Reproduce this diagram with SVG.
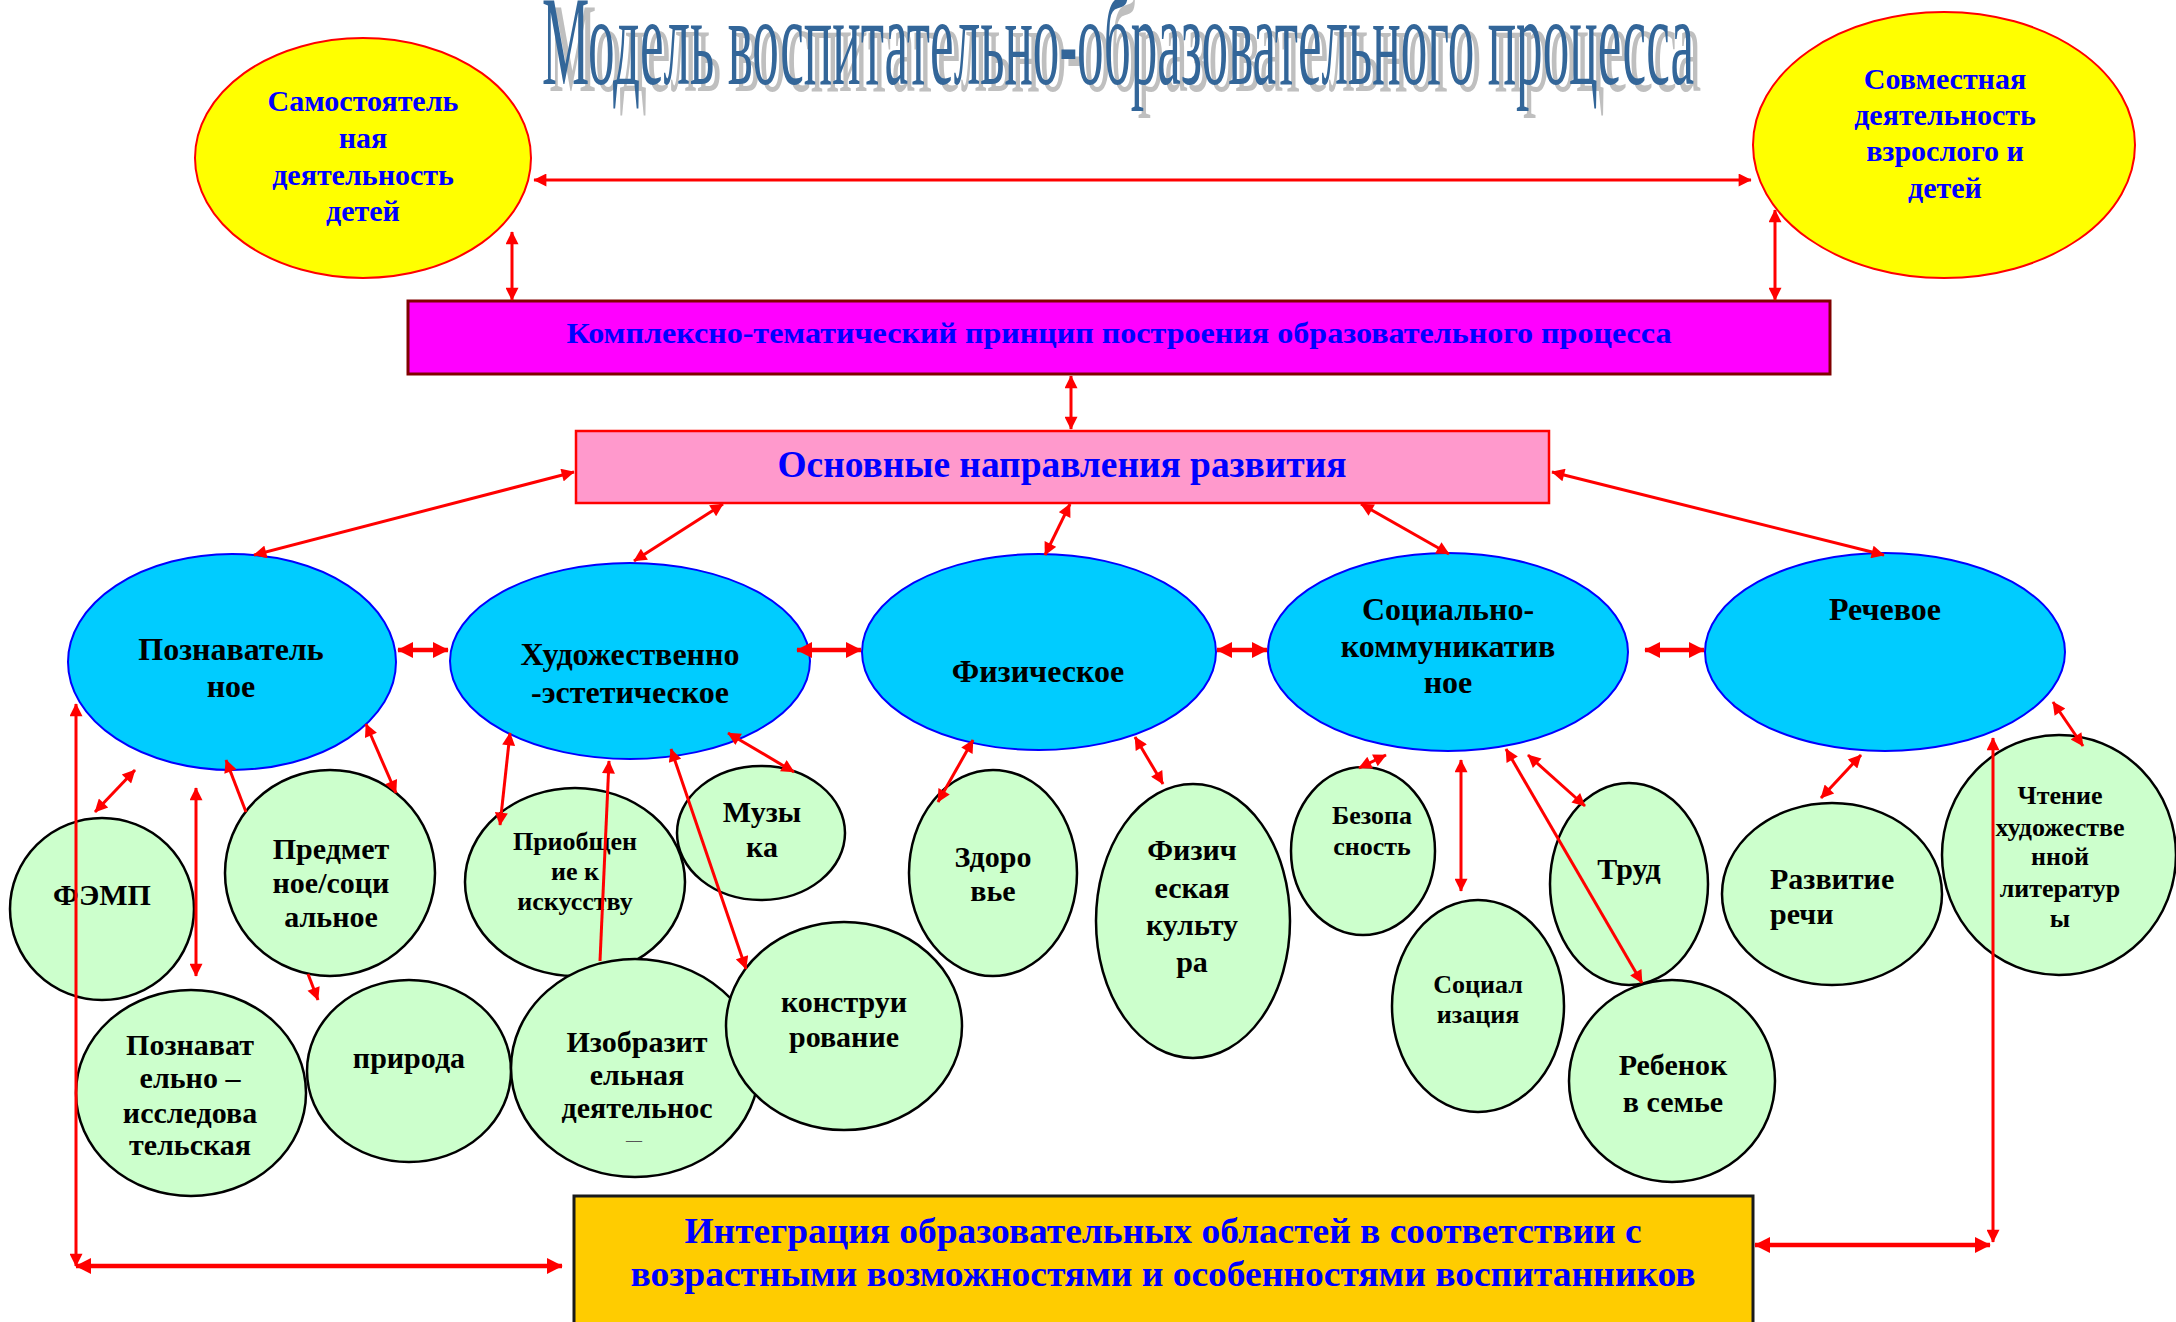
<svg xmlns="http://www.w3.org/2000/svg" width="2176" height="1322" viewBox="0 0 2176 1322">
<defs>
<marker id="a" viewBox="0 0 10 10" refX="9.5" refY="5" markerWidth="15" markerHeight="13" markerUnits="userSpaceOnUse" orient="auto-start-reverse"><path d="M0,0 L10,5 L0,10 z" fill="#FF0000"/></marker>
<marker id="b" viewBox="0 0 10 10" refX="9.5" refY="5" markerWidth="16" markerHeight="18" markerUnits="userSpaceOnUse" orient="auto-start-reverse"><path d="M0,0 L10,5 L0,10 z" fill="#FF0000"/></marker>
</defs>
<style>
text{font-family:"Liberation Serif","Times New Roman",serif;font-weight:bold;text-anchor:middle}
.title{font-weight:normal;font-size:128px}
.bl{fill:#0000FF}
.bk{fill:#000000}
.s32{font-size:32px}
.s30{font-size:30px}
.s26{font-size:26px}
.yel{fill:#FFFF00;stroke:#FF0000;stroke-width:2}
.cy{fill:#00CCFF;stroke:#0000FF;stroke-width:2}
.gr{fill:#CCFFCC;stroke:#000000;stroke-width:2.5}
.c{stroke:#FF0000;stroke-width:3;fill:none;marker-start:url(#a);marker-end:url(#a)}
.ce{stroke:#FF0000;stroke-width:3;fill:none;marker-end:url(#a)}
.cs{stroke:#FF0000;stroke-width:3;fill:none;marker-start:url(#a)}
.t{stroke:#FF0000;stroke-width:4.5;fill:none;marker-start:url(#b);marker-end:url(#b)}
</style>
<rect width="2176" height="1322" fill="#FFFFFF"/>
<g id="title">
<text class="title" x="1125" y="91" fill="#BFBFBF" textLength="1152" lengthAdjust="spacingAndGlyphs">Модель воспитательно-образовательного процесса</text>
<text class="title" x="1118" y="84" fill="#336699" textLength="1152" lengthAdjust="spacingAndGlyphs">Модель воспитательно-образовательного процесса</text>
</g>
<g id="samostoyatelnaya">
<ellipse class="yel" cx="363" cy="158" rx="168" ry="120"/>
<text class="bl s30" x="363" y="111">Самостоятель</text>
<text class="bl s30" x="363" y="148">ная</text>
<text class="bl s30" x="363" y="185">деятельность</text>
<text class="bl s30" x="363" y="221">детей</text>
</g>
<g id="sovmestnaya">
<ellipse class="yel" cx="1944" cy="145" rx="191" ry="133"/>
<text class="bl s30" x="1945" y="89">Совместная</text>
<text class="bl s30" x="1945" y="125">деятельность</text>
<text class="bl s30" x="1945" y="161">взрослого и</text>
<text class="bl s30" x="1945" y="198">детей</text>
</g>
<g id="kompleksno">
<rect x="408" y="301" width="1422" height="73" fill="#FF00FF" stroke="#800000" stroke-width="3"/>
<text class="bl" x="1119" y="343" font-size="29" textLength="1105" lengthAdjust="spacingAndGlyphs">Комплексно-тематический принцип построения образовательного процесса</text>
</g>
<g id="osnovnye">
<rect x="576" y="431" width="973" height="72" fill="#FF99CC" stroke="#FF0000" stroke-width="2.5"/>
<text class="bl" x="1062" y="477" font-size="37" textLength="569" lengthAdjust="spacingAndGlyphs">Основные направления развития</text>
</g>
<g id="poznavatelnoe">
<ellipse class="cy" cx="232" cy="662" rx="164" ry="108"/>
<text class="bk s32" x="231" y="660">Познаватель</text>
<text class="bk s32" x="231" y="697">ное</text>
</g>
<g id="hudozhestvennoe">
<ellipse class="cy" cx="630" cy="661" rx="180" ry="98"/>
<text class="bk s32" x="630" y="665">Художественно</text>
<text class="bk s32" x="630" y="703">-эстетическое</text>
</g>
<g id="fizicheskoe">
<ellipse class="cy" cx="1039" cy="652" rx="177" ry="98"/>
<text class="bk s32" x="1038" y="682">Физическое</text>
</g>
<g id="socialnoe">
<ellipse class="cy" cx="1448" cy="652" rx="180" ry="99"/>
<text class="bk s32" x="1448" y="620">Социально-</text>
<text class="bk s32" x="1448" y="657">коммуникатив</text>
<text class="bk s32" x="1448" y="693">ное</text>
</g>
<g id="rechevoe">
<ellipse class="cy" cx="1885" cy="652" rx="180" ry="99"/>
<text class="bk s32" x="1885" y="620">Речевое</text>
</g>
<g id="femp">
<ellipse class="gr" cx="102" cy="909" rx="92" ry="91"/>
<text class="bk s30" x="102" y="905">ФЭМП</text>
</g>
<g id="predmetnoe">
<ellipse class="gr" cx="330" cy="873" rx="105" ry="103"/>
<text class="bk s30" x="331" y="859">Предмет</text>
<text class="bk s30" x="331" y="893">ное/соци</text>
<text class="bk s30" x="331" y="927">альное</text>
</g>
<g id="priobshchenie">
<ellipse class="gr" cx="575" cy="882" rx="110" ry="94"/>
<text class="bk s26" x="575" y="850">Приобщен</text>
<text class="bk s26" x="575" y="880">ие к</text>
<text class="bk s26" x="575" y="910">искусству</text>
</g>
<g id="muzyka">
<ellipse class="gr" cx="761" cy="833" rx="84" ry="67"/>
<text class="bk s30" x="762" y="822">Музы</text>
<text class="bk s30" x="762" y="857">ка</text>
</g>
<g id="zdorovie">
<ellipse class="gr" cx="993" cy="873" rx="84" ry="103"/>
<text class="bk s30" x="993" y="867">Здоро</text>
<text class="bk s30" x="993" y="901">вье</text>
</g>
<g id="fizkultura">
<ellipse class="gr" cx="1193" cy="921" rx="97" ry="137"/>
<text class="bk s30" x="1192" y="860">Физич</text>
<text class="bk s30" x="1192" y="898">еская</text>
<text class="bk s30" x="1192" y="935">культу</text>
<text class="bk s30" x="1192" y="972">ра</text>
</g>
<g id="bezopasnost">
<ellipse class="gr" cx="1363" cy="851" rx="72" ry="84"/>
<text class="bk s26" x="1372" y="824">Безопа</text>
<text class="bk s26" x="1372" y="855">сность</text>
</g>
<g id="socializaciya">
<ellipse class="gr" cx="1478" cy="1006" rx="86" ry="106"/>
<text class="bk s26" x="1478" y="993">Социал</text>
<text class="bk s26" x="1478" y="1023">изация</text>
</g>
<g id="trud">
<ellipse class="gr" cx="1629" cy="884" rx="79" ry="101"/>
<text class="bk s30" x="1629" y="879">Труд</text>
</g>
<g id="rebenok">
<ellipse class="gr" cx="1672" cy="1081" rx="103" ry="101"/>
<text class="bk s30" x="1673" y="1075">Ребенок</text>
<text class="bk s30" x="1673" y="1112">в семье</text>
</g>
<g id="razvitie">
<ellipse class="gr" cx="1832" cy="894" rx="110" ry="91"/>
<text class="bk s30" x="1770" y="889" style="text-anchor:start">Развитие</text>
<text class="bk s30" x="1770" y="924" style="text-anchor:start">речи</text>
</g>
<g id="chtenie">
<ellipse class="gr" cx="2059" cy="855" rx="117" ry="120"/>
<text class="bk s26" x="2060" y="804">Чтение</text>
<text class="bk s26" x="2060" y="836">художестве</text>
<text class="bk s26" x="2060" y="865">нной</text>
<text class="bk s26" x="2060" y="897">литератур</text>
<text class="bk s26" x="2060" y="927">ы</text>
</g>
<g id="issledovatelskaya">
<ellipse class="gr" cx="191" cy="1093" rx="115" ry="103"/>
<text class="bk s30" x="190" y="1055">Познават</text>
<text class="bk s30" x="190" y="1088">ельно –</text>
<text class="bk s30" x="190" y="1123">исследова</text>
<text class="bk s30" x="190" y="1155">тельская</text>
</g>
<g id="priroda">
<ellipse class="gr" cx="409" cy="1071" rx="102" ry="91"/>
<text class="bk s30" x="409" y="1068">природа</text>
</g>
<g id="izobrazitelnaya">
<ellipse class="gr" cx="635" cy="1068" rx="124" ry="109"/>
<text class="bk s30" x="637" y="1052">Изобразит</text>
<text class="bk s30" x="637" y="1085">ельная</text>
<text class="bk s30" x="637" y="1118">деятельнос</text>
<text x="634" y="1145" font-size="16" fill="#555555" style="font-weight:normal">–‒</text>
</g>
<g id="konstruirovanie">
<ellipse class="gr" cx="844" cy="1026" rx="118" ry="104"/>
<text class="bk s30" x="844" y="1012">конструи</text>
<text class="bk s30" x="844" y="1047">рование</text>
</g>
<g id="integraciya">
<rect x="574" y="1196" width="1179" height="140" fill="#FFCC00" stroke="#1a1a1a" stroke-width="3"/>
<text class="bl" x="1163" y="1243" font-size="35" textLength="957" lengthAdjust="spacingAndGlyphs">Интеграция образовательных областей в соответствии с</text>
<text class="bl" x="1163" y="1286" font-size="35" textLength="1065" lengthAdjust="spacingAndGlyphs">возрастными возможностями и особенностями воспитанников</text>
</g>
<g id="connectors">
<line class="c" x1="534" y1="180" x2="1751" y2="180"/>
<line class="c" x1="512" y1="232" x2="512" y2="300"/>
<line class="c" x1="1775" y1="210" x2="1775" y2="300"/>
<line class="c" x1="1071" y1="376" x2="1071" y2="429"/>
<line class="c" x1="574" y1="472" x2="254" y2="555"/>
<line class="c" x1="723" y1="504" x2="634" y2="561"/>
<line class="c" x1="1070" y1="504" x2="1045" y2="555"/>
<line class="c" x1="1361" y1="504" x2="1449" y2="554"/>
<line class="c" x1="1552" y1="472" x2="1884" y2="555"/>
<line class="t" x1="398" y1="650" x2="448" y2="650"/>
<line class="t" x1="797" y1="650" x2="861" y2="650"/>
<line class="t" x1="1217" y1="650" x2="1267" y2="650"/>
<line class="t" x1="1645" y1="650" x2="1704" y2="650"/>
<line class="c" x1="135" y1="770" x2="95" y2="812"/>
<line class="c" x1="76" y1="704" x2="76" y2="1266"/>
<line class="t" x1="76" y1="1266" x2="562" y2="1266"/>
<line class="c" x1="196" y1="788" x2="196" y2="976"/>
<line class="cs" x1="226" y1="760" x2="246" y2="812"/>
<line class="ce" x1="308" y1="974" x2="318" y2="1000"/>
<line class="c" x1="366" y1="724" x2="396" y2="793"/>
<line class="c" x1="510" y1="733" x2="500" y2="825"/>
<line class="cs" x1="609" y1="761" x2="600" y2="961"/>
<line class="c" x1="671" y1="749" x2="746" y2="969"/>
<line class="c" x1="728" y1="733" x2="794" y2="772"/>
<line class="c" x1="973" y1="740" x2="938" y2="802"/>
<line class="c" x1="1135" y1="737" x2="1163" y2="784"/>
<line class="c" x1="1386" y1="755" x2="1359" y2="768"/>
<line class="c" x1="1461" y1="760" x2="1461" y2="891"/>
<line class="c" x1="1506" y1="749" x2="1642" y2="983"/>
<line class="c" x1="1528" y1="755" x2="1585" y2="806"/>
<line class="c" x1="1861" y1="755" x2="1821" y2="798"/>
<line class="c" x1="2053" y1="702" x2="2083" y2="746"/>
<line class="c" x1="1993" y1="738" x2="1993" y2="1242"/>
<line class="t" x1="1755" y1="1245" x2="1990" y2="1245"/>
</g>
</svg>
